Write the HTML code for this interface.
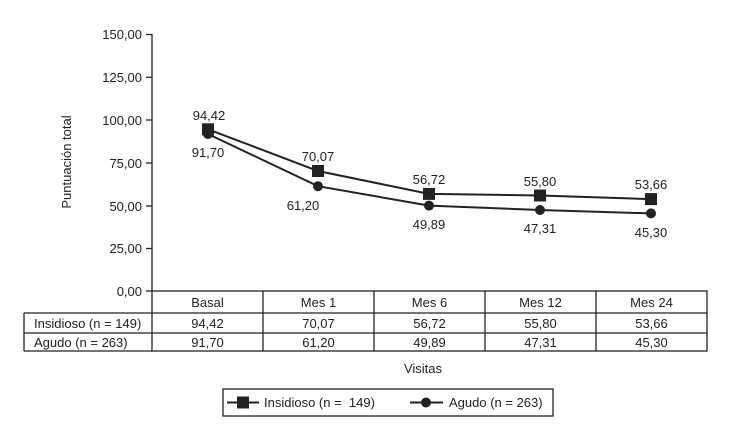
<!DOCTYPE html>
<html><head><meta charset="utf-8"><style>
body{margin:0;background:#fff}
text{font-family:"Liberation Sans",sans-serif;font-size:13px;fill:#222}
</style></head><body>
<svg width="730" height="438" xmlns="http://www.w3.org/2000/svg">
<g stroke="#222" stroke-width="1.3" fill="none">
<line x1="152" y1="34" x2="152" y2="291"/>
<line x1="146" y1="34.5" x2="152" y2="34.5"/>
<line x1="146" y1="77.3" x2="152" y2="77.3"/>
<line x1="146" y1="120" x2="152" y2="120"/>
<line x1="146" y1="163" x2="152" y2="163"/>
<line x1="146" y1="206" x2="152" y2="206"/>
<line x1="146" y1="248.5" x2="152" y2="248.5"/>
<line x1="146" y1="291" x2="152" y2="291"/>
<rect x="152" y="291" width="555" height="60"/>
<line x1="24" y1="313" x2="707" y2="313"/>
<line x1="24" y1="333" x2="707" y2="333"/>
<line x1="24" y1="313" x2="24" y2="351"/>
<line x1="24" y1="351" x2="152" y2="351"/>
<line x1="263" y1="291" x2="263" y2="351"/>
<line x1="374" y1="291" x2="374" y2="351"/>
<line x1="485" y1="291" x2="485" y2="351"/>
<line x1="596" y1="291" x2="596" y2="351"/>
<rect x="223" y="389" width="330" height="27"/>
<polyline stroke-width="2" points="208,129.3 318,171 429,193.9 540,195.5 651,199.1"/>
<polyline stroke-width="2" points="208,134 318,186.2 429,205.6 540,210 651,213.4"/>
<line x1="227" y1="402.5" x2="259" y2="402.5" stroke-width="2"/>
<line x1="410" y1="402.5" x2="443" y2="402.5" stroke-width="2"/>
</g>
<g fill="#222">
<circle cx="208" cy="134" r="5"/><circle cx="318" cy="186.2" r="5"/><circle cx="429" cy="205.6" r="5"/><circle cx="540" cy="210" r="5"/><circle cx="651" cy="213.4" r="5"/>
<rect x="202" y="123.3" width="12" height="12"/><rect x="312" y="165" width="12" height="12"/><rect x="423" y="187.9" width="12" height="12"/><rect x="534" y="189.5" width="12" height="12"/><rect x="645" y="193.1" width="12" height="12"/>
<rect x="237" y="396.5" width="12" height="12"/><circle cx="426" cy="402.5" r="5"/>
</g>
<g text-anchor="end">
<text x="142" y="39">150,00</text><text x="142" y="82">125,00</text><text x="142" y="125">100,00</text><text x="142" y="168">75,00</text><text x="142" y="211">50,00</text><text x="142" y="253">25,00</text><text x="142" y="296">0,00</text>
</g>
<text transform="translate(71,162) rotate(-90)" text-anchor="middle">Puntuación total</text>
<g text-anchor="middle">
<text x="209" y="120">94,42</text><text x="208" y="157">91,70</text>
<text x="318" y="161">70,07</text><text x="303" y="210">61,20</text>
<text x="429" y="184">56,72</text><text x="429" y="229">49,89</text>
<text x="540" y="186">55,80</text><text x="540" y="233">47,31</text>
<text x="651" y="189">53,66</text><text x="651" y="237">45,30</text>
<text x="207.5" y="307">Basal</text><text x="318.5" y="307">Mes 1</text><text x="429.5" y="307">Mes 6</text><text x="540.5" y="307">Mes 12</text><text x="651.5" y="307">Mes 24</text>
<text x="207.5" y="328">94,42</text><text x="318.5" y="328">70,07</text><text x="429.5" y="328">56,72</text><text x="540.5" y="328">55,80</text><text x="651.5" y="328">53,66</text>
<text x="207.5" y="347">91,70</text><text x="318.5" y="347">61,20</text><text x="429.5" y="347">49,89</text><text x="540.5" y="347">47,31</text><text x="651.5" y="347">45,30</text>
<text x="423" y="373">Visitas</text>
</g>
<text x="34" y="328">Insidioso (n = 149)</text>
<text x="34" y="347">Agudo (n = 263)</text>
<text x="264" y="407">Insidioso (n = &#160;149)</text>
<text x="449" y="407">Agudo (n = 263)</text>
</svg>
</body></html>
